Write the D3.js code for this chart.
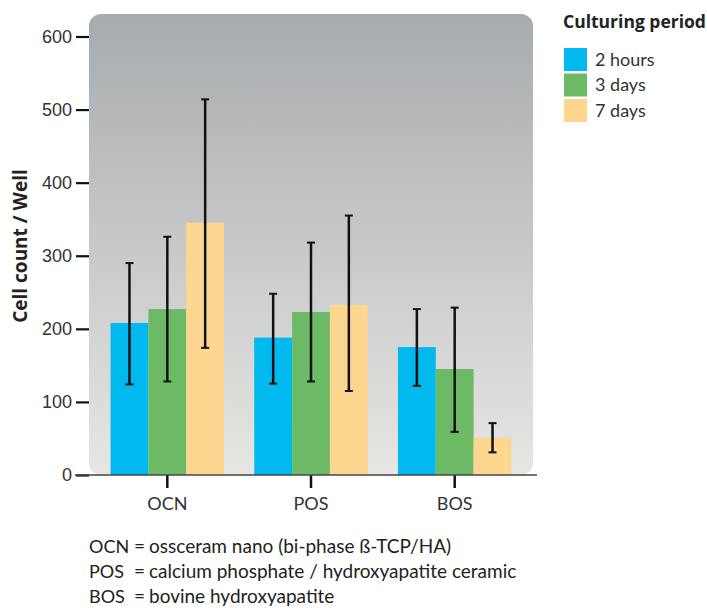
<!DOCTYPE html>
<html>
<head>
<meta charset="utf-8">
<script src="https://cdn.jsdelivr.net/npm/d3@7"></script>
<style>
  body { margin: 0; background: #fff; }
  svg { display: block; }
  .tick text { fill: #333; }
</style>
</head>
<body>
<svg id="chart" width="707" height="608"></svg>
<script>
  // Materials on the x axis
  var materials = ["OCN", "POS", "BOS"];

  // Culturing periods (series)
  var periods = ["2 hours", "3 days", "7 days"];
  var periodColors = ["#00b9ef", "#6cb966", "#fdd78f"];

  // Mean cell count per well, one array per period (OCN, POS, BOS)
  var hours2 = [208, 188, 175];
  var days3 = [227, 223, 145];
  var days7 = [345, 233, 51];

  // Error bar ends (low / high), same order
  var hours2Low = [124, 125, 122];
  var hours2High = [290, 248, 227];
  var days3Low = [128, 128, 59];
  var days3High = [326, 318, 229];
  var days7Low = [174, 115, 31];
  var days7High = [514, 355, 71];

  var yTicks = [0, 100, 200, 300, 400, 500, 600];

  var footnotes = [
    ["OCN", "ossceram nano (bi-phase \u00df-TCP/HA)"],
    ["POS", "calcium phosphate / hydroxyapatite ceramic"],
    ["BOS", "bovine hydroxyapatite"]
  ];

  var FONT = "Lato, 'Open Sans', sans-serif";
  var WIDE = "'Open Sans', Lato, sans-serif";

  // build rows for the bars
  var means = [hours2, days3, days7];
  var lows = [hours2Low, days3Low, days7Low];
  var highs = [hours2High, days3High, days7High];
  var rows = [];
  materials.forEach(function (m, i) {
    periods.forEach(function (p, j) {
      rows.push({ material: m, period: p, value: means[j][i],
                  low: lows[j][i], high: highs[j][i], color: periodColors[j] });
    });
  });

  var svg = d3.select("#chart");

  var x = d3.scaleBand()
    .domain(materials)
    .range([89, 533])
    .paddingInner(0.21)
    .paddingOuter(0.15);

  var xs = d3.scaleBand()
    .domain(periods)
    .range([0, x.bandwidth()]);

  var y = d3.scaleLinear()
    .domain([0, 600])
    .range([475, 36.5]);

  // background panel with vertical gradient
  var defs = svg.append("defs");
  var grad = defs.append("linearGradient")
    .attr("id", "bg")
    .attr("x1", 0).attr("y1", 0).attr("x2", 0).attr("y2", 1);
  grad.append("stop").attr("offset", "0%").attr("stop-color", "#a8abae");
  grad.append("stop").attr("offset", "100%").attr("stop-color", "#e6e7e4");

  svg.append("rect")
    .attr("x", 89)
    .attr("y", 14)
    .attr("width", 444)
    .attr("height", 461)
    .attr("rx", 12)
    .attr("fill", "url(#bg)");

  // bars
  svg.append("g").selectAll("rect")
    .data(rows)
    .enter().append("rect")
      .attr("x", d => x(d.material) + xs(d.period))
      .attr("y", d => y(d.value))
      .attr("width", xs.bandwidth())
      .attr("height", d => y(0) - y(d.value))
      .attr("fill", d => d.color);

  // error bars
  var err = svg.append("g").selectAll("g")
    .data(rows)
    .enter().append("g")
      .attr("transform", d => "translate(" + (x(d.material) + xs(d.period) + xs.bandwidth() / 2) + ",0)");
  err.append("line")
    .attr("y1", d => y(d.low))
    .attr("y2", d => y(d.high))
    .attr("stroke", "#111")
    .attr("stroke-width", 2.5);
  err.selectAll(".cap")
    .data(d => [d.low, d.high])
    .enter().append("line")
      .attr("class", "cap")
      .attr("x1", -4).attr("x2", 4)
      .attr("y1", v => y(v)).attr("y2", v => y(v))
      .attr("stroke", "#111")
      .attr("stroke-width", 2);

  // y axis (ticks only, no domain line)
  var yAxis = svg.append("g")
    .attr("transform", "translate(89,0)")
    .call(d3.axisLeft(y).tickValues(yTicks).tickSize(13).tickPadding(4));
  yAxis.select(".domain").remove();
  yAxis.selectAll(".tick line").attr("stroke", "#111").attr("stroke-width", 2.2);
  yAxis.selectAll(".tick text")
    .style("font-family", "'Liberation Sans', Arial, sans-serif")
    .style("font-size", "18px");

  // x axis
  var xAxis = svg.append("g")
    .attr("transform", "translate(0,475)")
    .call(d3.axisBottom(x).tickSize(13).tickPadding(9));
  xAxis.select(".domain").remove();
  xAxis.selectAll(".tick line").attr("stroke", "#111").attr("stroke-width", 2.5);
  xAxis.selectAll(".tick text")
    .style("font-family", FONT)
    .style("font-size", "18px");

  svg.append("line")
    .attr("x1", 75).attr("x2", 537)
    .attr("y1", 475).attr("y2", 475)
    .attr("stroke", "#444")
    .attr("stroke-width", 1.5);

  // y axis title
  svg.append("text")
    .attr("transform", "translate(27,246) rotate(-90)")
    .attr("text-anchor", "middle")
    .style("font-family", WIDE)
    .style("font-weight", "bold")
    .style("font-size", "19px")
    .attr("fill", "#222")
    .text("Cell count / Well");

  // legend
  var legend = svg.append("g").attr("transform", "translate(564,0)");
  legend.append("text")
    .attr("x", -1).attr("y", 28)
    .style("font-family", WIDE)
    .style("font-weight", "bold")
    .style("font-size", "17.5px")
    .attr("fill", "#222")
    .text("Culturing period");
  var li = legend.selectAll(".item")
    .data(periods)
    .enter().append("g")
      .attr("class", "item")
      .attr("transform", (d, i) => "translate(0," + (48 + i * 25.5) + ")");
  li.append("rect")
    .attr("width", 23)
    .attr("height", 23)
    .attr("fill", (d, i) => periodColors[i]);
  li.append("text")
    .attr("x", 31).attr("y", 17.5)
    .style("font-family", FONT)
    .style("font-size", "18px")
    .attr("fill", "#333")
    .text(d => d);

  // footnotes
  var fn = svg.append("g").selectAll("g")
    .data(footnotes)
    .enter().append("g")
      .attr("transform", (d, i) => "translate(0," + (553 + i * 25) + ")")
      .style("font-family", FONT)
      .style("font-size", "19px")
      .attr("fill", "#222");
  fn.append("text").attr("x", 89).style("font-size", "18px").text(d => d[0]);
  fn.append("text").attr("x", 134).text("=");
  fn.append("text").attr("x", 149).text(d => d[1]);
</script>
</body>
</html>
